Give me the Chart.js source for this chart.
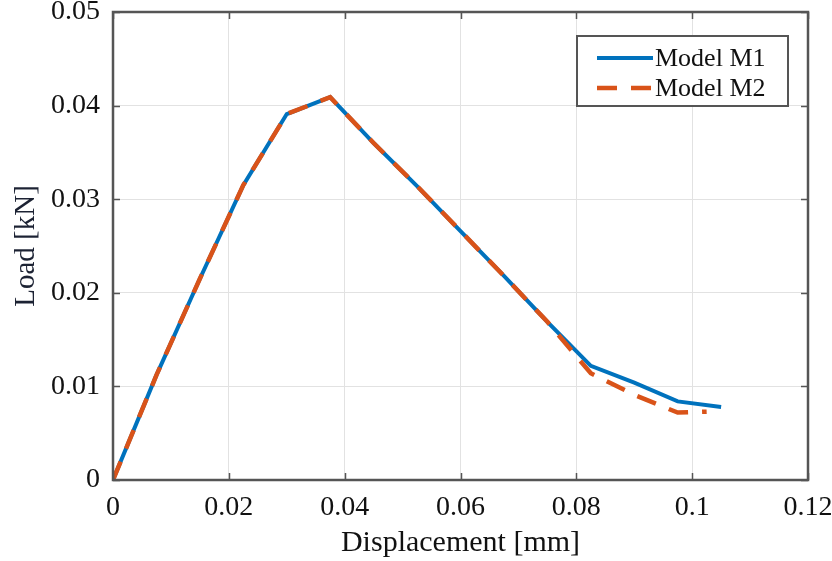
<!DOCTYPE html>
<html>
<head>
<meta charset="utf-8">
<script src="https://cdn.jsdelivr.net/npm/chart.js@4/dist/chart.umd.min.js"></script>
<style>
  html, body { margin: 0; padding: 0; background: #fff; }
  #wrap { width: 832px; height: 561px; }
</style>
</head>
<body>
<div id="wrap"><canvas id="chart" width="832" height="561"></canvas></div>
<script>
(() => {

/* ---------- DATA ---------- */

const xTicks = [0, 0.02, 0.04, 0.06, 0.08, 0.1, 0.12];
const yTicks = [0, 0.01, 0.02, 0.03, 0.04, 0.05];
const xTickLabels = ["0", "0.02", "0.04", "0.06", "0.08", "0.1", "0.12"];
const yTickLabels = ["0", "0.01", "0.02", "0.03", "0.04", "0.05"];

const seriesNames = ["Model M1", "Model M2"];

const dispM1 = [0, 0.0075, 0.015, 0.0225, 0.03, 0.0375, 0.045, 0.0525, 0.06, 0.0675, 0.075, 0.0825, 0.09, 0.0975, 0.105];
const loadM1 = [0, 0.0112, 0.0215, 0.0315, 0.0391, 0.0409, 0.0360, 0.0314, 0.0266, 0.0218, 0.0169, 0.0122, 0.0104, 0.0084, 0.0078];

const dispM2 = [0, 0.0075, 0.015, 0.0225, 0.03, 0.0375, 0.045, 0.0525, 0.06, 0.0675, 0.075, 0.0825, 0.09, 0.0975, 0.1025];
const loadM2 = [0, 0.0112, 0.0215, 0.0315, 0.0391, 0.0409, 0.0360, 0.0314, 0.0266, 0.0218, 0.0169, 0.0114, 0.0091, 0.0072, 0.0073];

/* ---------- STYLE ---------- */

const BLUE = "#0072BD";
const ORANGE = "#D95319";
const FRAME = "#555555";
const GRID = "#e2e2e2";
const SERIF = "'Liberation Serif', 'Times New Roman', serif";

const toPoints = (xs, ys) => xs.map((x, i) => ({ x, y: ys[i] }));

/* ---------- PLUGINS ---------- */

// box around the plot plus short inward ticks, like a MATLAB axes
const framePlugin = {
  id: "frame",
  afterDatasetsDraw(chart) {
    const { ctx, chartArea: a, scales } = chart;
    ctx.save();
    ctx.strokeStyle = FRAME;
    ctx.lineWidth = 1.5;
    const tl = 7;
    ctx.beginPath();
    xTicks.forEach(v => {
      const px = Math.round(scales.x.getPixelForValue(v)) + 0.5;
      ctx.moveTo(px, a.bottom); ctx.lineTo(px, a.bottom - tl);
      ctx.moveTo(px, a.top); ctx.lineTo(px, a.top + tl);
    });
    yTicks.forEach(v => {
      const py = Math.round(scales.y.getPixelForValue(v)) + 0.5;
      ctx.moveTo(a.left, py); ctx.lineTo(a.left + tl, py);
      ctx.moveTo(a.right, py); ctx.lineTo(a.right - tl, py);
    });
    ctx.stroke();
    ctx.lineWidth = 2.5;
    ctx.strokeRect(a.left, a.top, a.right - a.left, a.bottom - a.top);
    ctx.restore();
  }
};

// legend boxed inside the top-right corner of the plot
const insideLegend = {
  id: "insideLegend",
  afterDraw(chart) {
    const { ctx, chartArea: a } = chart;
    const w = 211, h = 70;
    const x0 = a.right - 20 - w;
    const y0 = a.top + 24;
    ctx.save();
    ctx.fillStyle = "#fff";
    ctx.fillRect(x0, y0, w, h);
    ctx.strokeStyle = FRAME;
    ctx.lineWidth = 2;
    ctx.strokeRect(x0, y0, w, h);

    // legend lists M1 first
    const rows = [chart.data.datasets[1], chart.data.datasets[0]];
    rows.forEach((ds, i) => {
      const cy = y0 + 22 + i * 30;
      ctx.beginPath();
      ctx.strokeStyle = ds.borderColor;
      ctx.lineWidth = ds.borderWidth;
      ctx.setLineDash(ds.borderDash || []);
      ctx.moveTo(x0 + 20, cy);
      ctx.lineTo(x0 + 76, cy);
      ctx.stroke();
      ctx.setLineDash([]);
      ctx.fillStyle = "#111";
      ctx.font = "26px " + SERIF;
      ctx.textBaseline = "middle";
      ctx.textAlign = "left";
      ctx.fillText(ds.label, x0 + 78, cy + 1);
    });
    ctx.restore();
  }
};

/* ---------- CHART ---------- */

new Chart(document.getElementById("chart"), {
  type: "scatter",
  data: {
    datasets: [
      {
        label: seriesNames[1],
        data: toPoints(dispM2, loadM2),
        showLine: true,
        borderColor: ORANGE,
        backgroundColor: ORANGE,
        borderWidth: 4.5,
        borderDash: [20, 14],
        pointRadius: 0,
        tension: 0,
        order: 0
      },
      {
        label: seriesNames[0],
        data: toPoints(dispM1, loadM1),
        showLine: true,
        borderColor: BLUE,
        backgroundColor: BLUE,
        borderWidth: 4,
        pointRadius: 0,
        tension: 0,
        order: 1
      }
    ]
  },
  options: {
    responsive: false,
    devicePixelRatio: 1,
    animation: false,
    layout: { padding: { top: 12, right: 24, left: 0, bottom: 0 } },
    plugins: {
      legend: { display: false },
      tooltip: { enabled: false }
    },
    scales: {
      x: {
        type: "linear",
        min: 0,
        max: 0.12,
        afterBuildTicks: s => { s.ticks = xTicks.map(v => ({ value: v })); },
        afterFit: s => { s.height = 81; s.paddingLeft = 0; s.paddingRight = 0; },
        ticks: {
          autoSkip: false,
          maxRotation: 0,
          padding: 11,
          color: "#111",
          font: { family: SERIF, size: 28 },
          callback: (v, i) => xTickLabels[i]
        },
        grid: { color: GRID, lineWidth: 1, drawTicks: false },
        border: { display: false },
        title: {
          display: true,
          text: "Displacement [mm]",
          color: "#111",
          font: { family: SERIF, size: 30, lineHeight: 1 },
          padding: { top: 0, bottom: 3 }
        }
      },
      y: {
        type: "linear",
        min: 0,
        max: 0.05,
        afterBuildTicks: s => { s.ticks = yTicks.map(v => ({ value: v })); },
        afterFit: s => { s.width = 113; s.paddingTop = 0; s.paddingBottom = 0; },
        ticks: {
          autoSkip: false,
          padding: 13,
          color: "#111",
          font: { family: SERIF, size: 28 },
          callback: (v, i) => yTickLabels[i]
        },
        grid: { color: GRID, lineWidth: 1, drawTicks: false },
        border: { display: false },
        title: {
          display: true,
          text: "Load [kN]",
          color: "#1c2233",
          font: { family: SERIF, size: 29, lineHeight: 1 },
          padding: { top: 12, bottom: 0 }
        }
      }
    }
  },
  plugins: [framePlugin, insideLegend]
});

})();
</script>
</body>
</html>
